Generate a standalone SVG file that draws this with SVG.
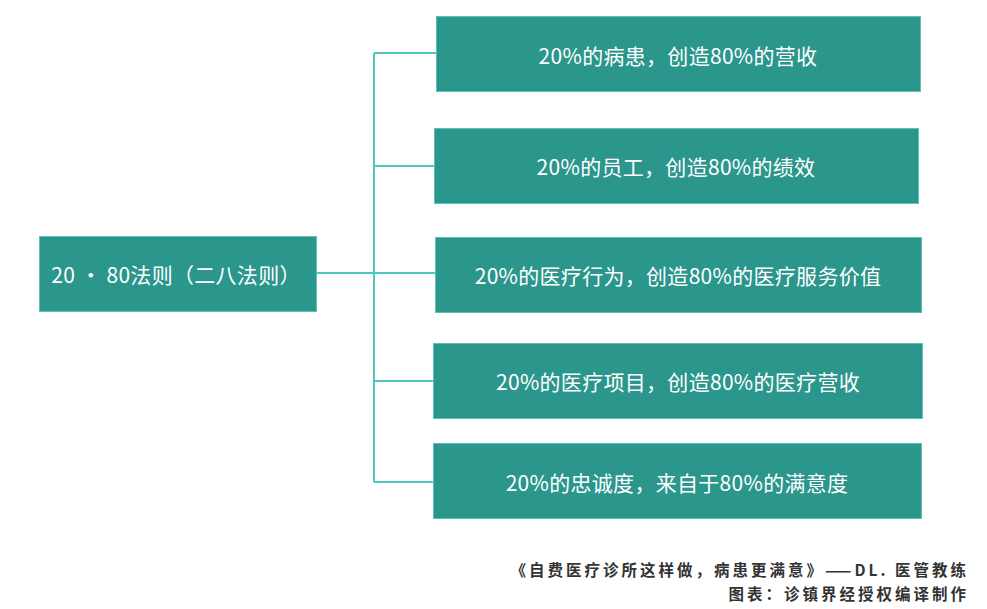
<svg xmlns="http://www.w3.org/2000/svg" width="987" height="609" viewBox="0 0 987 609">
<style>
.box{fill:#2A968C;stroke:#5CC0B7;stroke-width:1}
.lbl{fill:#FFFFFF;font-family:"Noto Sans CJK SC","Noto Sans",sans-serif;font-size:21px;text-anchor:middle;dominant-baseline:central;letter-spacing:0.3px}
.conn{fill:none;stroke:#4FC6BE;stroke-width:2}
.foot{fill:#333333;font-family:"Noto Sans CJK SC",sans-serif;font-size:15.5px;font-weight:bold;text-anchor:end;letter-spacing:3px}
</style>
<rect width="987" height="609" fill="#FFFFFF"/>
<g id="connectors">
<path class="conn" d="M316,273 H435"/>
<path class="conn" d="M374,53 V482"/>
<path class="conn" d="M374,53 H436"/>
<path class="conn" d="M374,166 H434"/>
<path class="conn" d="M374,381 H433"/>
<path class="conn" d="M374,482 H433"/>
</g>
<g id="root">
<rect class="box" x="39.5" y="236.5" width="277" height="75"/>
<text class="lbl" x="176" y="274">20 · 80法则（二八法则）</text>
</g>
<g id="n1">
<rect class="box" x="436.5" y="16.5" width="484" height="75"/>
<text class="lbl" x="678" y="55">20%的病患，创造80%的营收</text>
</g>
<g id="n2">
<rect class="box" x="434.5" y="128.5" width="484" height="75"/>
<text class="lbl" x="676" y="166">20%的员工，创造80%的绩效</text>
</g>
<g id="n3">
<rect class="box" x="435.5" y="237.5" width="486" height="75"/>
<text class="lbl" x="678" y="275">20%的医疗行为，创造80%的医疗服务价值</text>
</g>
<g id="n4">
<rect class="box" x="433.5" y="343.5" width="489" height="75"/>
<text class="lbl" x="678" y="381">20%的医疗项目，创造80%的医疗营收</text>
</g>
<g id="n5">
<rect class="box" x="433.5" y="443.5" width="488" height="75"/>
<text class="lbl" x="677" y="482">20%的忠诚度，来自于80%的满意度</text>
</g>
<g id="footer">
<text class="foot" x="969" y="576">《自费医疗诊所这样做，病患更满意》——DL. 医管教练</text>
<text class="foot" x="969" y="600">图表：诊镇界经授权编译制作</text>
</g>
</svg>
